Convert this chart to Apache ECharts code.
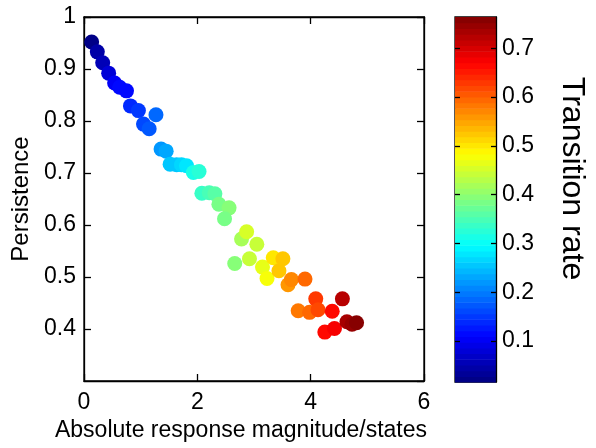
<!DOCTYPE html>
<html>
<head>
<meta charset="utf-8">
<script src="https://cdn.jsdelivr.net/npm/echarts@6/dist/echarts.min.js"></script>
<style>
  html, body { margin: 0; padding: 0; background: #ffffff; }
  #chart { width: 596px; height: 448px; }
</style>
</head>
<body>
<div id="chart"></div>
<script>
// Absolute response magnitude per state (x), persistence (y) and transition rate (colour)
const magnitude = [
  0.135, 0.235, 0.33, 0.435, 0.54, 0.63, 0.75, 0.82, 0.96, 1.05,
  1.15, 1.27, 1.36, 1.45, 1.52, 1.635, 1.72, 1.81, 1.93, 2.03,
  2.08, 2.21, 2.31, 2.38, 2.56, 2.48, 2.66, 2.78, 2.87, 2.92,
  3.05, 3.15, 3.23, 3.34, 3.44, 3.51, 3.60, 3.66, 3.78, 3.90,
  3.98, 4.09, 4.13, 4.25, 4.38, 4.42, 4.56, 4.64, 4.73, 4.81
];
const persistence = [
  0.952, 0.933, 0.912, 0.892, 0.873, 0.865, 0.858, 0.829, 0.820, 0.794,
  0.785, 0.812, 0.746, 0.742, 0.717, 0.716, 0.716, 0.714, 0.701, 0.703,
  0.661, 0.662, 0.660, 0.640, 0.633, 0.612, 0.526, 0.573, 0.587, 0.535,
  0.563, 0.519, 0.497, 0.537, 0.512, 0.535, 0.485, 0.495, 0.435, 0.496,
  0.432, 0.458, 0.437, 0.394, 0.434, 0.401, 0.458, 0.414, 0.409, 0.412
];
const transitionRate = [
  0.016, 0.04, 0.06, 0.08, 0.10, 0.11, 0.12, 0.14, 0.15, 0.16,
  0.17, 0.19, 0.22, 0.23, 0.25, 0.26, 0.27, 0.28, 0.31, 0.32,
  0.34, 0.35, 0.36, 0.38, 0.39, 0.38, 0.39, 0.42, 0.45, 0.44,
  0.44, 0.47, 0.48, 0.50, 0.53, 0.53, 0.56, 0.57, 0.58, 0.59,
  0.60, 0.63, 0.62, 0.66, 0.66, 0.68, 0.72, 0.73, 0.75, 0.764
];

const xRange = [0, 6];
const xStep = 2;
const yRange = [0.3, 1];
const yStep = 0.1;
const rateMin = 0.016;
const rateMax = 0.764;
const rateTickRange = [0.1, 0.7];
const rateStep = 0.1;

// 64-step jet colour map
function jetMap(n) {
  const clamp = v => Math.max(0, Math.min(1, v));
  const out = [];
  for (let i = 0; i < n; i++) {
    const t = (i + 0.5) / n;
    const r = clamp(1.5 - Math.abs(4 * t - 3));
    const g = clamp(1.5 - Math.abs(4 * t - 2));
    const b = clamp(1.5 - Math.abs(4 * t - 1));
    out.push('rgb(' + Math.round(r * 255) + ',' + Math.round(g * 255) + ',' + Math.round(b * 255) + ')');
  }
  return out;
}
const palette = jetMap(64);
function rateColor(v) {
  let i = Math.floor((v - rateMin) / (rateMax - rateMin) * palette.length);
  i = Math.max(0, Math.min(palette.length - 1, i));
  return palette[i];
}

const points = magnitude.map((x, i) => [x, persistence[i], transitionRate[i]]);
const step = (rateMax - rateMin) / palette.length;
const bands = palette.map((c, i) => [0, rateMin + i * step, rateMin + (i + 1) * step, i]);

// Colour bar box, and the sub-range of it that carries the tick marks
const barBox = { left: 455, top: 17, width: 41, height: 365 };
const pxPerRate = barBox.height / (rateMax - rateMin);
const tickBox = {
  left: barBox.left,
  width: barBox.width,
  top: barBox.top + (rateMax - rateTickRange[1]) * pxPerRate,
  height: (rateTickRange[1] - rateTickRange[0]) * pxPerRate
};

const font = 'Liberation Sans, Arial, sans-serif';
const lineStyle = { color: '#000', width: 1.3 };
const tickText = { color: '#000', fontSize: 23, fontFamily: font };

const chart = echarts.init(document.getElementById('chart'), null, { renderer: 'canvas' });
chart.setOption({
  animation: false,
  backgroundColor: '#ffffff',
  grid: [
    { left: 84, top: 17, width: 340, height: 364, show: true, borderColor: '#000', borderWidth: 1.3 },
    { ...barBox, show: true, borderColor: '#000', borderWidth: 1.3 },
    { ...tickBox, show: false }
  ],
  xAxis: [
    {
      gridIndex: 0, type: 'value', position: 'bottom', min: xRange[0], max: xRange[1], interval: xStep,
      axisLine: { show: true, onZero: false, lineStyle: lineStyle },
      axisTick: { show: true, inside: true, length: 7, lineStyle: lineStyle },
      axisLabel: { ...tickText, margin: 10 },
      splitLine: { show: false },
      name: 'Absolute response magnitude/states', nameLocation: 'middle', nameGap: 36,
      nameTextStyle: { color: '#000', fontSize: 23, fontFamily: font, padding: [0, 26, 0, 0] }
    },
    {
      gridIndex: 0, type: 'value', position: 'top', min: xRange[0], max: xRange[1], interval: xStep,
      axisLine: { show: true, onZero: false, lineStyle: lineStyle },
      axisTick: { show: true, inside: true, length: 7, lineStyle: lineStyle },
      axisLabel: { show: false }, splitLine: { show: false }
    },
    { gridIndex: 1, type: 'value', min: 0, max: 1, show: false },
    { gridIndex: 2, type: 'value', min: 0, max: 1, show: false }
  ],
  yAxis: [
    {
      gridIndex: 0, type: 'value', position: 'left', min: yRange[0], max: yRange[1], interval: yStep,
      axisLine: { show: true, onZero: false, lineStyle: lineStyle },
      axisTick: { show: true, inside: true, length: 7, lineStyle: lineStyle },
      axisLabel: { ...tickText, margin: 8, showMinLabel: false },
      splitLine: { show: false },
      name: 'Persistence', nameLocation: 'middle', nameGap: 50, nameRotate: 90,
      nameTextStyle: { color: '#000', fontSize: 24, fontFamily: font }
    },
    {
      gridIndex: 0, type: 'value', position: 'right', min: yRange[0], max: yRange[1], interval: yStep,
      axisLine: { show: true, onZero: false, lineStyle: lineStyle },
      axisTick: { show: true, inside: true, length: 7, lineStyle: lineStyle },
      axisLabel: { show: false }, splitLine: { show: false }
    },
    {
      // colour bar scale (full data range), carries the title
      gridIndex: 1, type: 'value', position: 'right', min: rateMin, max: rateMax,
      axisLine: { show: true, onZero: false, lineStyle: lineStyle },
      axisTick: { show: false },
      axisLabel: { show: false },
      splitLine: { show: false },
      name: 'Transition rate', nameLocation: 'middle', nameGap: 60, nameRotate: -90,
      nameTextStyle: { color: '#000', fontSize: 32, fontFamily: font, padding: [0, 42, 0, 0] }
    },
    {
      gridIndex: 2, type: 'value', position: 'right', min: rateTickRange[0], max: rateTickRange[1], interval: rateStep,
      axisLine: { show: false, onZero: false },
      axisTick: { show: true, inside: true, length: 5, lineStyle: lineStyle },
      axisLabel: { ...tickText, margin: 6 },
      splitLine: { show: false }
    },
    {
      gridIndex: 2, type: 'value', position: 'left', min: rateTickRange[0], max: rateTickRange[1], interval: rateStep,
      axisLine: { show: false, onZero: false },
      axisTick: { show: true, inside: true, length: 5, lineStyle: lineStyle },
      axisLabel: { show: false }, splitLine: { show: false }
    }
  ],
  series: [
    {
      type: 'scatter',
      xAxisIndex: 0, yAxisIndex: 0,
      data: points,
      symbol: 'circle',
      symbolSize: 15,
      itemStyle: { color: p => rateColor(p.value[2]), opacity: 1 },
      emphasis: { disabled: true },
      z: 1
    },
    {
      type: 'custom',
      xAxisIndex: 2, yAxisIndex: 2,
      data: bands,
      encode: { x: 0, y: [1, 2] },
      renderItem: function (params, api) {
        const lo = api.coord([0, api.value(1)]);
        const hi = api.coord([1, api.value(2)]);
        return {
          type: 'rect',
          shape: { x: lo[0], y: hi[1], width: hi[0] - lo[0], height: lo[1] - hi[1] + 0.6 },
          style: { fill: palette[api.value(3)] }
        };
      },
      z: 0
    }
  ]
});
</script>
</body>
</html>
